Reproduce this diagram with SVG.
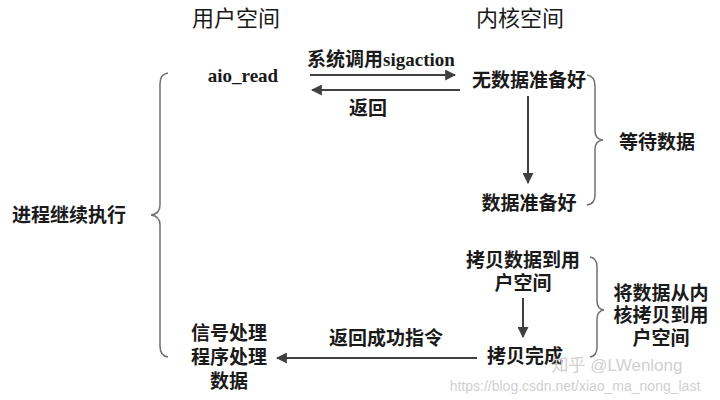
<svg xmlns="http://www.w3.org/2000/svg" width="720" height="400" viewBox="0 0 720 400">
<defs>
<style>
text{font-family:"Liberation Serif","Noto Sans CJK SC",serif;fill:#1a1a1a;text-anchor:middle;dominant-baseline:central}
.t{font-size:22px;font-weight:normal}
.b{font-size:19px;font-weight:bold}
.wm{font-family:"Liberation Sans","Noto Sans CJK SC",sans-serif;fill:#d0d0d0;font-weight:normal}
.ln{stroke:#404040;stroke-width:2;fill:none}
.br{stroke:#707070;stroke-width:1.5;fill:none}
</style>
<marker id="ah" viewBox="0 0 10 10" refX="9" refY="5" markerWidth="5.5" markerHeight="5.5" orient="auto" markerUnits="strokeWidth">
<path d="M0,0 L10,5 L0,10 z" fill="#404040"/>
</marker>
</defs>
<rect width="720" height="400" fill="#fff"/>

<g id="title-user"><text class="t" x="236" y="18">用户空间</text></g>
<g id="title-kernel"><text class="t" x="520" y="18">内核空间</text></g>

<g id="aio-read"><text class="b" x="243" y="75">aio_read</text></g>
<g id="no-data"><text class="b" x="529" y="80">无数据准备好</text></g>
<g id="data-ready"><text class="b" x="529" y="203">数据准备好</text></g>
<g id="wait-data"><text class="b" x="657" y="142">等待数据</text></g>
<g id="copy-data"><text class="b" x="523" y="260">拷贝数据到用</text><text class="b" x="523" y="283">户空间</text></g>
<g id="copy-done"><text class="b" x="525" y="356">拷贝完成</text></g>
<g id="copy-label"><text class="b" x="661" y="293">将数据从内</text><text class="b" x="661" y="315">核拷贝到用</text><text class="b" x="661" y="338">户空间</text></g>
<g id="signal-handler"><text class="b" x="229" y="333">信号处理</text><text class="b" x="229" y="357">程序处理</text><text class="b" x="229" y="381">数据</text></g>
<g id="process-continue"><text class="b" x="69" y="215">进程继续执行</text></g>

<g id="braces">
<path class="br" d="M168,73 Q160,74 160,84 L160,205 Q160,214 151,215 Q160,216 160,225 L160,346 Q160,356 168,357"/>
<path class="br" d="M587,75 Q595,76 595,86 L595,131 Q595,139 603,140 Q595,141 595,149 L595,195 Q595,204 587,205"/>
<path class="br" d="M590,257 Q597,258 597,267 L597,301 Q597,309 604,310 Q597,311 597,319 L597,347 Q597,356 590,357"/>
</g>

<g id="connectors">
<line class="ln" x1="310" y1="75" x2="455" y2="75" marker-end="url(#ah)"/>
<text class="b" x="381" y="59">系统调用sigaction</text>
<line class="ln" x1="460" y1="90" x2="312" y2="90" marker-end="url(#ah)"/>
<text class="b" x="368" y="108">返回</text>
<line class="ln" x1="528" y1="96" x2="528" y2="183" marker-end="url(#ah)"/>
<line class="ln" x1="523" y1="298" x2="523" y2="337" marker-end="url(#ah)"/>
<line class="ln" x1="477" y1="358" x2="277" y2="358" marker-end="url(#ah)"/>
<text class="b" x="386" y="338">返回成功指令</text>
</g>

<g id="watermark">
<text class="wm" x="617" y="365" font-size="17">知乎 @LWenlong</text>
<text class="wm" x="575" y="386" font-size="14">https://blog.csdn.net/xiao_ma_nong_last</text>
</g>
</svg>
